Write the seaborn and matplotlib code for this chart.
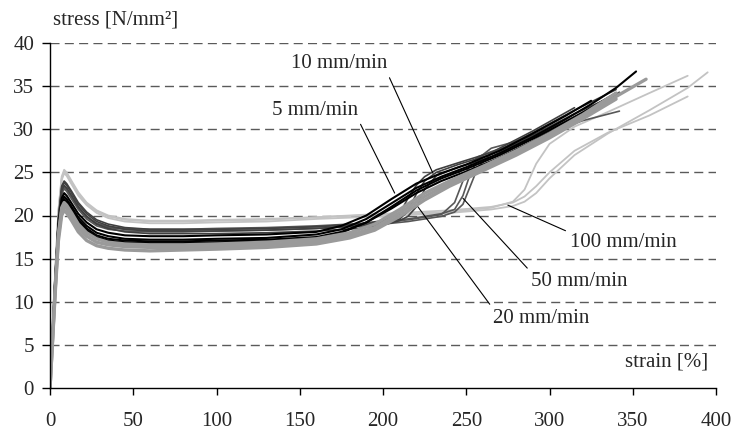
import matplotlib
matplotlib.use("Agg")
import matplotlib.pyplot as plt
import numpy as np
import pandas as pd
import seaborn as sns

# strain grids [%] and stress curves [N/mm²], one list per specimen
strain_5 = [0, 3, 5, 7, 8.5, 10, 13, 17, 22, 28, 35, 45, 60, 80, 100, 130, 160, 180, 195, 210,
            225, 240, 260, 280, 300, 320, 340, 358]
stress_5 = [
    [0, 11, 17.5, 20.5, 21.1, 20.8, 19.9, 18.6, 17.6, 16.9, 16.6, 16.4, 16.3, 16.3, 16.4, 16.6, 17.0, 17.7,
     18.6, 20.3, 22.2, 23.7, 25.5, 27.3, 29.3, 31.5, 33.8, 35.8],
    [0, 10.6, 17.0, 20.0, 20.6, 20.3, 19.4, 18.1, 17.1, 16.5, 16.2, 16.0, 15.9, 16.0, 16.1, 16.3, 16.7, 17.4,
     18.3, 19.9, 21.8, 23.4, 25.2, 27.0, 29.0, 31.2, 33.5],
    [0, 11.2, 17.8, 20.9, 21.5, 21.2, 20.3, 19.0, 18.0, 17.3, 16.9, 16.7, 16.6, 16.6, 16.7, 16.9, 17.3, 18.0,
     19.0, 20.7, 22.6, 24.0, 25.7, 27.5, 29.5, 31.7, 34.2],
]

strain_10 = [0, 3, 5, 7, 8.5, 10, 13, 17, 22, 28, 35, 45, 60, 80, 100, 130, 160, 175, 190, 205,
             220, 235, 250, 270, 290, 310, 325, 340, 352]
stress_10 = [
    [0, 12, 18.5, 21.6, 22.2, 21.9, 21.0, 19.8, 18.8, 18.0, 17.6, 17.3, 17.2, 17.2, 17.3, 17.4, 17.8, 18.4,
     19.6, 21.4, 23.2, 24.5, 25.6, 27.2, 29.1, 31.2, 32.9, 34.8, 36.7],
    [0, 11.5, 18.0, 21.1, 21.7, 21.4, 20.5, 19.3, 18.3, 17.5, 17.1, 16.9, 16.8, 16.8, 16.9, 17.0, 17.4, 18.0,
     19.2, 21.0, 22.9, 24.3, 25.4, 27.0, 28.9, 30.9, 32.5, 34.2],
    [0, 12.3, 18.9, 22.0, 22.6, 22.3, 21.4, 20.2, 19.2, 18.4, 18.0, 17.7, 17.6, 17.6, 17.7, 17.8, 18.1, 18.8,
     20.0, 21.9, 23.7, 24.9, 25.9, 27.5, 29.5, 31.6, 33.3],
    [0, 11.8, 18.3, 21.3, 21.9, 21.6, 20.7, 19.5, 18.5, 17.7, 17.3, 17.1, 17.0, 17.0, 17.1, 17.2, 17.5, 18.1,
     19.2, 20.8, 22.6, 24.0, 25.1, 26.7, 28.6, 30.6, 32.2, 33.9],
]

strain_20 = [0, 3, 5, 7, 8.5, 10, 13, 17, 22, 28, 35, 45, 60, 80, 100, 130, 160, 185, 200, 210,
             215, 220, 225, 232, 245, 265, 290, 315, 340]
stress_20 = [
    [0, 12.5, 19.5, 23.2, 23.8, 23.5, 22.6, 21.3, 20.2, 19.3, 18.8, 18.4, 18.2, 18.2, 18.2, 18.3, 18.5, 18.8,
     19.2, 19.6, 20.5, 22.5, 24.0, 25.0, 25.9, 27.1, 29.6, 32.2, 34.6],
    [0, 12.3, 19.2, 22.9, 23.5, 23.2, 22.3, 21.0, 19.9, 19.0, 18.5, 18.1, 17.9, 17.9, 17.9, 18.0, 18.2, 18.5,
     18.9, 19.4, 19.9, 21.0, 23.0, 24.6, 25.6, 26.8, 29.3, 31.8, 34.0],
    [0, 12.6, 19.7, 23.4, 24.0, 23.7, 22.8, 21.5, 20.4, 19.5, 19.0, 18.6, 18.4, 18.4, 18.4, 18.5, 18.7, 19.0,
     19.4, 20.2, 22.0, 23.5, 24.5, 25.3, 26.1, 27.3, 29.8, 32.5],
]

strain_50 = [0, 3, 5, 7, 8.5, 10, 13, 17, 22, 28, 35, 45, 60, 80, 100, 130, 160, 190, 215, 235,
             243, 248, 252, 257, 265, 280, 300, 320, 342]
stress_50 = [
    [0, 12.4, 19.3, 22.8, 23.4, 23.1, 22.2, 21.0, 19.9, 19.1, 18.7, 18.5, 18.4, 18.4, 18.5, 18.6, 18.8, 19.1,
     19.6, 20.2, 20.7, 22.3, 24.6, 26.6, 27.8, 28.6, 30.0, 31.9, 34.3],
    [0, 12.2, 19.0, 22.5, 23.1, 22.8, 21.9, 20.7, 19.6, 18.8, 18.4, 18.2, 18.1, 18.1, 18.2, 18.3, 18.5, 18.8,
     19.3, 19.9, 20.4, 21.3, 23.2, 25.6, 27.2, 28.2, 29.6, 31.0, 32.1],
    [0, 12.3, 19.2, 22.7, 23.3, 23.0, 22.1, 20.9, 19.8, 19.0, 18.6, 18.4, 18.3, 18.3, 18.4, 18.5, 18.7, 19.0,
     19.5, 20.1, 21.5, 24.0, 25.8, 26.8, 27.4, 28.3, 29.8, 31.6],
]

strain_100 = [0, 3, 5, 7, 8.5, 10, 13, 17, 22, 28, 35, 45, 60, 80, 100, 130, 160, 200, 240, 265,
              278, 285, 292, 300, 315, 335, 360, 383, 395]
stress_100 = [
    [0, 13, 20.5, 24.5, 25.3, 25.0, 24.0, 22.7, 21.5, 20.6, 20.0, 19.6, 19.4, 19.4, 19.5, 19.6, 19.8, 20.1,
     20.4, 20.9, 21.6, 23.0, 26.0, 28.3, 30.3, 32.0, 34.2, 36.2],
    [0, 12.8, 20.2, 24.1, 24.9, 24.6, 23.6, 22.3, 21.2, 20.3, 19.7, 19.3, 19.1, 19.1, 19.2, 19.3, 19.6, 19.9,
     20.3, 20.7, 21.1, 21.6, 22.6, 24.3, 27.0, 29.5, 32.2, 34.8, 36.6],
    [0, 12.9, 20.4, 24.3, 25.1, 24.8, 23.8, 22.5, 21.4, 20.5, 19.9, 19.5, 19.3, 19.3, 19.4, 19.5, 19.8, 20.2,
     20.6, 21.0, 21.5, 22.2, 23.4, 25.0, 27.5, 29.6, 31.6, 33.8],
]

rates = ["100 mm/min", "50 mm/min", "20 mm/min", "10 mm/min", "5 mm/min"]
colors = {"100 mm/min": "#c3c3c3", "50 mm/min": "#575757", "20 mm/min": "#404040",
          "10 mm/min": "#000000", "5 mm/min": "#9a9a9a"}
widths = {"100 mm/min": 1.3, "50 mm/min": 1.2, "20 mm/min": 1.2, "10 mm/min": 1.5, "5 mm/min": 2.4}

# label text position and the point its leader line goes to
label_xy = {"10 mm/min": (173.7, 37.6), "5 mm/min": (159.3, 32.2), "20 mm/min": (295, 8.1),
            "50 mm/min": (318, 12.3), "100 mm/min": (344.4, 16.9)}
leader_to = {"10 mm/min": (230, 24.9), "5 mm/min": (207, 22.6), "20 mm/min": (221, 21),
             "50 mm/min": (248, 22), "100 mm/min": (275, 21.2)}
leader_from = {"10 mm/min": (1, 0), "5 mm/min": (1, 0), "20 mm/min": (0, 1),
               "50 mm/min": (0, 1), "100 mm/min": (0, 1)}

groups = {"5 mm/min": (strain_5, stress_5), "10 mm/min": (strain_10, stress_10),
          "20 mm/min": (strain_20, stress_20), "50 mm/min": (strain_50, stress_50),
          "100 mm/min": (strain_100, stress_100)}

rows = []
for rate, (strain, curves) in groups.items():
    for i, curve in enumerate(curves):
        for x, y in zip(strain, curve):
            rows.append({"rate": rate, "specimen": f"{rate}-{i}", "strain": x, "stress": y})
df = pd.DataFrame(rows)

sns.set_style("ticks")
plt.rcParams["font.family"] = ["Liberation Serif", "DejaVu Serif"]
plt.rcParams["font.size"] = 15

fig = plt.figure(figsize=(7.33, 4.30), dpi=100)
ax = fig.add_axes([50 / 733, 1 - 388 / 430, 666 / 733, 345 / 430])

for y in range(5, 45, 5):
    ax.axhline(y, color="#5a5a5a", lw=1.0, ls=(0, (6.5, 3.8)), zorder=0)

sns.lineplot(data=df, x="strain", y="stress", hue="rate", size="rate", units="specimen",
             estimator=None, sort=False, hue_order=rates, size_order=rates,
             palette=colors, sizes=widths, legend=False, ax=ax)

for rate in rates:
    ax.annotate(rate, xy=leader_to[rate], xytext=label_xy[rate], ha="center", va="center",
                fontsize=15,
                arrowprops=dict(arrowstyle="-", color="black", lw=0.8,
                                relpos=leader_from[rate], shrinkA=1, shrinkB=0))

ax.set_xlim(0, 400)
ax.set_ylim(0, 40)
ax.set_xticks(range(0, 401, 50))
ax.set_yticks(range(0, 41, 5))
ax.set_xlabel("")
ax.set_ylabel("")
ax.tick_params(axis="x", direction="out", length=5, width=1, pad=12, labelsize=15, color="black")
ax.tick_params(axis="y", direction="out", length=5.5, width=1, pad=6, labelsize=15, color="black")
sns.despine(ax=ax)
for side in ["left", "bottom"]:
    ax.spines[side].set_color("black")
    ax.spines[side].set_linewidth(1.0)

ax.text(395, 3.0, "strain [%]", ha="right", va="center", fontsize=15)
fig.text(53 / 733, 1 - 20 / 430, "stress [N/mm²]", ha="left", va="center", fontsize=15)

fig.savefig("out.png", dpi=100)
